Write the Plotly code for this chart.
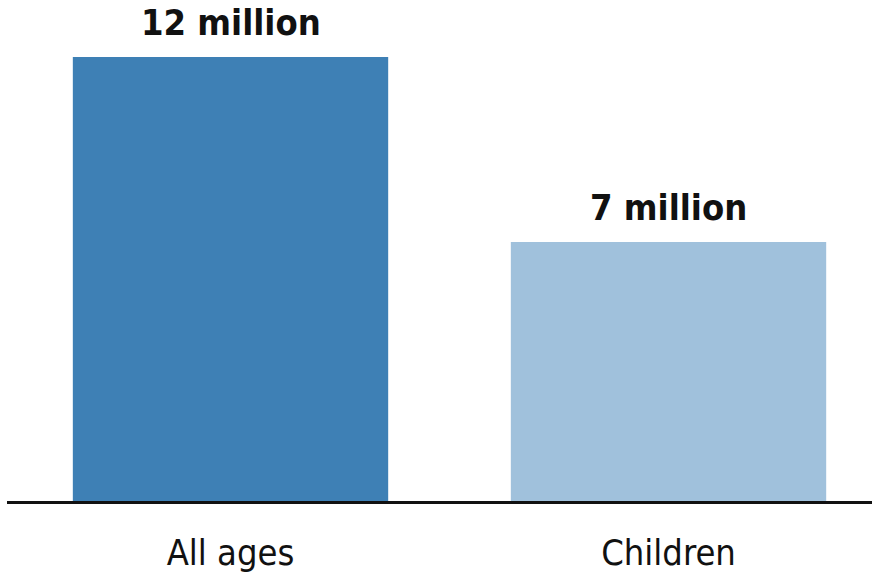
import plotly.graph_objects as go

# Chart data
categories = ["All ages", "Children"]
values = [12, 7]  # millions
value_labels = ["12 million", "7 million"]
bar_colors = ["#3E80B5", "#A0C1DC"]

FONT = "Liberation Sans Narrow, DejaVu Sans Condensed, Arial Narrow, sans-serif"

fig = go.Figure(
    go.Bar(
        x=categories,
        y=values,
        marker=dict(color=bar_colors, line=dict(width=0)),
        width=0.72,
        hoverinfo="skip",
    )
)

# Value labels sitting above each bar
for cat, v, lab in zip(categories, values, value_labels):
    fig.add_annotation(
        x=cat, y=v, text=lab, showarrow=False,
        xanchor="center", yanchor="bottom", yshift=12,
        font=dict(family=FONT, size=36, color="#111111", weight=700),
    )

fig.update_layout(
    width=872, height=572,
    margin=dict(l=7, r=0, t=0, b=71),
    paper_bgcolor="white", plot_bgcolor="white",
    showlegend=False,
    bargap=0.28,
    xaxis=dict(
        range=[-0.5103, 1.4646],
        showline=True, linecolor="#111111", linewidth=3,
        ticks="outside", ticklen=18, tickcolor="rgba(0,0,0,0)",
        tickfont=dict(family=FONT, size=36, color="#111111"),
        showgrid=False, zeroline=False, fixedrange=True,
        automargin=False,
    ),
    yaxis=dict(
        range=[0, 13.54], visible=False, showgrid=False, zeroline=False,
        fixedrange=True,
    ),
)

fig.write_html("out.html")
